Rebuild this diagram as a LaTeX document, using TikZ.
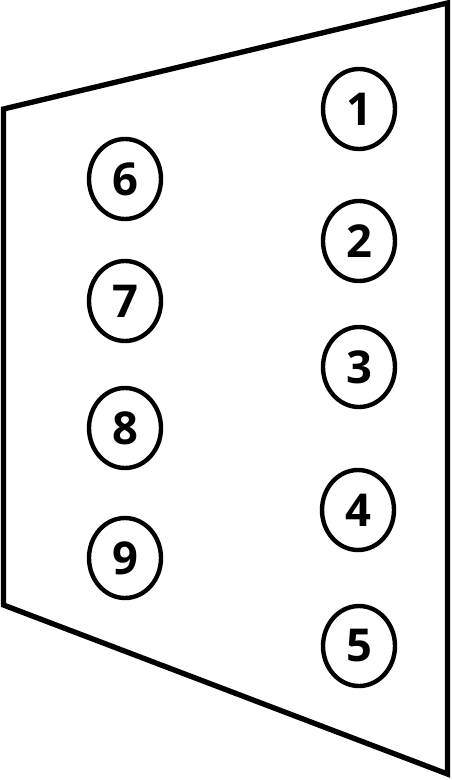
\documentclass[tikz,border=0pt]{standalone}
\usepackage{fontspec}
\setmainfont{Open Sans}
\usetikzlibrary{shapes.geometric}
\tikzstyle{pinnode}=[ellipse, draw=black, line width=3.3pt, minimum width=54pt, minimum height=60pt, inner sep=0, outer sep=0, font=\fontsize{34}{34}\selectfont\bfseries]
\tikzstyle{frameline}=[black, line width=4pt]
\begin{document}
\begin{tikzpicture}[x=0.75pt, y=-0.75pt]
  \useasboundingbox (0,0) rectangle (451,780);
  \coordinate (TL) at (3.5,109);
  \coordinate (TR) at (447.5,3);
  \coordinate (BR) at (447.5,774);
  \coordinate (BL) at (3.5,605);
  \draw[frameline] (TL) -- (TR) -- (BR) -- (BL) -- cycle;
  \node[pinnode] (N1) at (359,109) {1};
  \node[pinnode] (N2) at (359,241) {2};
  \node[pinnode] (N3) at (359,367) {3};
  \node[pinnode] (N4) at (358,510) {4};
  \node[pinnode] (N5) at (359,646) {5};
  \node[pinnode] (N6) at (125,179) {6};
  \node[pinnode] (N7) at (125,301) {7};
  \node[pinnode] (N8) at (125,428) {8};
  \node[pinnode] (N9) at (125,558) {9};
\end{tikzpicture}
\end{document}
